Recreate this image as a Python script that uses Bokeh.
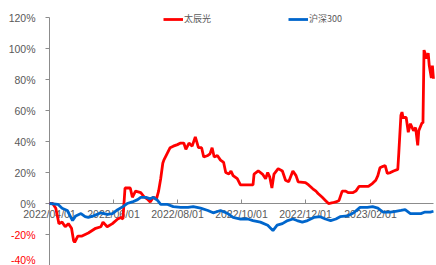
import pandas as pd
from bokeh.plotting import figure
from bokeh.models import (FixedTicker, DatetimeTickFormatter, Range1d, Legend, LegendItem,
                          LinearAxis, CustomJSTickFormatter)
from bokeh.embed import file_html
from bokeh.resources import INLINE

# ---------------- data ----------------
red_name = "太辰光"
hs_name = "沪深300"

red_dates = ["2022-04-01", "2022-04-04", "2022-04-07", "2022-04-10", "2022-04-13", "2022-04-16",
             "2022-04-19", "2022-04-22", "2022-04-24", "2022-04-25", "2022-04-28", "2022-05-02",
             "2022-05-08", "2022-05-15", "2022-05-20", "2022-05-22", "2022-05-26", "2022-05-31",
             "2022-06-05", "2022-06-08", "2022-06-10", "2022-06-12", "2022-06-17", "2022-06-19",
             "2022-06-22", "2022-06-27", "2022-06-30", "2022-07-03", "2022-07-06", "2022-07-09",
             "2022-07-12", "2022-07-14", "2022-07-16", "2022-07-18", "2022-07-19", "2022-07-22",
             "2022-07-25", "2022-07-28", "2022-08-01", "2022-08-04", "2022-08-07", "2022-08-09",
             "2022-08-12", "2022-08-15", "2022-08-18", "2022-08-21", "2022-08-24", "2022-08-26",
             "2022-08-30", "2022-09-01", "2022-09-03", "2022-09-05", "2022-09-08", "2022-09-11",
             "2022-09-14", "2022-09-16", "2022-09-19", "2022-09-21", "2022-09-23", "2022-09-27",
             "2022-09-30", "2022-10-10", "2022-10-12", "2022-10-13", "2022-10-17", "2022-10-21",
             "2022-10-24", "2022-10-26", "2022-10-28", "2022-10-30", "2022-11-01", "2022-11-05",
             "2022-11-09", "2022-11-12", "2022-11-15", "2022-11-19", "2022-11-22", "2022-11-24",
             "2022-12-01", "2022-12-04", "2022-12-08", "2022-12-11", "2022-12-13", "2022-12-17",
             "2022-12-20", "2022-12-23", "2022-12-27", "2022-12-30", "2023-01-02", "2023-01-05",
             "2023-01-08", "2023-01-11", "2023-01-15", "2023-01-18", "2023-01-21", "2023-01-25",
             "2023-01-30", "2023-02-03", "2023-02-06", "2023-02-08", "2023-02-10", "2023-02-13",
             "2023-02-15", "2023-02-17", "2023-02-20", "2023-02-23", "2023-02-27", "2023-02-28",
             "2023-03-02", "2023-03-03", "2023-03-04", "2023-03-07", "2023-03-09", "2023-03-11",
             "2023-03-14", "2023-03-16", "2023-03-18", "2023-03-19", "2023-03-22", "2023-03-23",
             "2023-03-24", "2023-03-25", "2023-03-26", "2023-03-28", "2023-03-29", "2023-03-31",
             "2023-04-01", "2023-04-02"]
red_vals = [0, 0, -3, -13, -12, -15,
            -13, -16, -24, -25, -21, -21,
            -19, -16, -15, -12, -15, -13,
            -10, -9, -10, 10, 10, 4,
            8, 7, 4.5, 3, 1, 4,
            3, 8, 16, 26, 28, 32,
            36, 37, 38, 39, 39, 35,
            39, 37, 43, 36, 36, 30,
            31, 32, 36, 30, 31, 28,
            26.5, 20, 19, 21, 18, 16,
            12, 12, 12, 19, 21, 19,
            16, 20, 17, 10, 19, 22.5,
            21, 15, 14, 21, 18, 14,
            13.5, 12, 9.5, 8, 6.5, 4,
            2, 0, 0.5, 1, 2, 8,
            8, 7, 7, 8, 11, 11,
            11, 13, 15, 18, 23, 24,
            24.5, 19.5, 20, 21, 22, 33,
            57, 59, 55.5, 55.5, 46, 51.5,
            47, 49, 37.5, 47, 52, 52,
            99, 97, 93.5, 97, 89, 81,
            89, 80.5]

hs_dates = ["2022-04-01", "2022-04-09", "2022-04-13", "2022-04-18", "2022-04-23", "2022-04-26",
            "2022-05-01", "2022-05-05", "2022-05-08", "2022-05-13", "2022-05-20", "2022-05-26",
            "2022-05-31", "2022-06-05", "2022-06-10", "2022-06-14", "2022-06-19", "2022-06-24",
            "2022-06-27", "2022-07-02", "2022-07-06", "2022-07-09", "2022-07-13", "2022-07-16",
            "2022-07-22", "2022-07-28", "2022-08-04", "2022-08-11", "2022-08-16", "2022-08-23",
            "2022-08-30", "2022-09-04", "2022-09-11", "2022-09-18", "2022-09-23", "2022-09-30",
            "2022-10-07", "2022-10-12", "2022-10-19", "2022-10-26", "2022-10-31", "2022-11-04",
            "2022-11-09", "2022-11-14", "2022-11-19", "2022-11-23", "2022-11-28", "2022-12-03",
            "2022-12-09", "2022-12-15", "2022-12-20", "2022-12-25", "2022-12-30", "2023-01-03",
            "2023-01-10", "2023-01-16", "2023-01-22", "2023-01-29", "2023-02-03", "2023-02-08",
            "2023-02-13", "2023-02-20", "2023-02-25", "2023-03-02", "2023-03-06", "2023-03-11",
            "2023-03-16", "2023-03-21", "2023-03-25", "2023-03-30", "2023-04-02"]
hs_vals = [0, -0.5, -3, -4.5, -11, -8,
           -6.5, -8.5, -9, -8, -6, -7,
           -6.5, -4, -2, 0, 1, 2.5,
           4, 4, 3, 4, 2, -0.5,
           -0.5, -2, -2.5, -2.5, -2, -3,
           -4.5, -6, -4.5, -6.5, -9, -10,
           -10, -11, -12, -14, -17.5, -14,
           -13, -11, -10, -11, -12, -11,
           -9, -8.5, -10, -11, -10, -8.5,
           -8, -6, -2.5, -2.5, -2, -3,
           -5.5, -5.5, -5, -4.5, -4, -6.5,
           -6.5, -6.5, -5.5, -5.5, -5]

y_ticks_pos = [0, 20, 40, 60, 80, 100, 120]
y_ticks_neg = [-40, -20]
x_ticks = ["2022-04-01", "2022-06-01", "2022-08-01", "2022-10-01", "2022-12-01", "2023-02-01"]
x_start, x_end = "2022-04-01", "2023-04-02"
y_min, y_top = -40, 131

# ---------------- plot ----------------
rd = pd.to_datetime(red_dates)
hd = pd.to_datetime(hs_dates)
t0 = pd.Timestamp(x_start)
t1 = pd.Timestamp(x_end)
x0_ms = t0.value / 1e6

# frame fills the whole canvas; the axes sit at fixed data positions inside it
p = figure(width=436, height=265, output_backend="svg", toolbar_location=None,
           x_axis_type="datetime",
           x_range=Range1d(t0 - pd.Timedelta(days=46.7), t0 + pd.Timedelta(days=368.9)),
           y_range=Range1d(y_min, y_top),
           min_border_left=0, min_border_right=0, min_border_top=0, min_border_bottom=0)
p.outline_line_color = None
p.grid.visible = False
p.background_fill_color = "white"

axis_gray = "#8c8c8c"
label_gray = "#595959"
font = "Liberation Sans"
fsize = "10.5px"

# y axis (non-negative labels, gray)
p.yaxis.fixed_location = x0_ms
p.yaxis.ticker = FixedTicker(ticks=y_ticks_neg + y_ticks_pos)
p.yaxis.bounds = (-40, 120)
p.yaxis.formatter = CustomJSTickFormatter(code="return tick < 0 ? '' : tick.toFixed(0) + '%';")
p.yaxis.axis_line_color = axis_gray
p.yaxis.major_tick_line_color = axis_gray
p.yaxis.major_tick_out = 4
p.yaxis.major_tick_in = 0
p.yaxis.minor_tick_line_color = None
p.yaxis.major_label_standoff = 10
p.yaxis.major_label_text_font = font
p.yaxis.major_label_text_font_size = fsize
p.yaxis.major_label_text_color = label_gray

# y axis overlay for negative labels, red
neg_axis = LinearAxis(ticker=FixedTicker(ticks=y_ticks_neg), fixed_location=x0_ms,
                      formatter=CustomJSTickFormatter(code="return tick.toFixed(0) + '%';"),
                      axis_line_color=None, major_tick_line_color=None,
                      minor_tick_line_color=None, major_tick_out=4, major_tick_in=0,
                      major_label_standoff=10, major_label_text_font=font,
                      major_label_text_font_size=fsize, major_label_text_color="#ff0000")
p.add_layout(neg_axis, "left")

# x axis at y = 0
p.xaxis.fixed_location = 0
p.xaxis.bounds = (t0, t1)
p.xaxis.ticker = FixedTicker(ticks=[pd.Timestamp(t).value / 1e6 for t in x_ticks])
fmt = "%Y/%m/%d"
p.xaxis.formatter = DatetimeTickFormatter(milliseconds=fmt, seconds=fmt, minsec=fmt, minutes=fmt,
                                          hourmin=fmt, hours=fmt, days=fmt, months=fmt, years=fmt)
p.xaxis.axis_line_color = axis_gray
p.xaxis.major_tick_line_color = axis_gray
p.xaxis.major_tick_in = 4
p.xaxis.major_tick_out = 0
p.xaxis.minor_tick_line_color = None
p.xaxis.major_label_standoff = 4
p.xaxis.major_label_text_font = font
p.xaxis.major_label_text_font_size = fsize
p.xaxis.major_label_text_color = label_gray

r1 = p.line(rd, red_vals, line_color="#ff0000", line_width=2.8)
r2 = p.line(hd, hs_vals, line_color="#0066cc", line_width=2.8)
r1.level = "overlay"
r2.level = "overlay"

legend = Legend(items=[LegendItem(label=red_name, renderers=[r1]),
                       LegendItem(label=hs_name, renderers=[r2])],
                orientation="horizontal", location=(163, 240),
                padding=0, margin=0, spacing=77, glyph_width=20, glyph_height=12,
                label_standoff=1, label_text_font="Noto Sans CJK SC",
                label_text_font_size="9px", label_text_color=label_gray,
                border_line_color=None, background_fill_alpha=0, label_height=12)
p.add_layout(legend, "center")

open("out.html", "w").write(file_html(p, INLINE))
